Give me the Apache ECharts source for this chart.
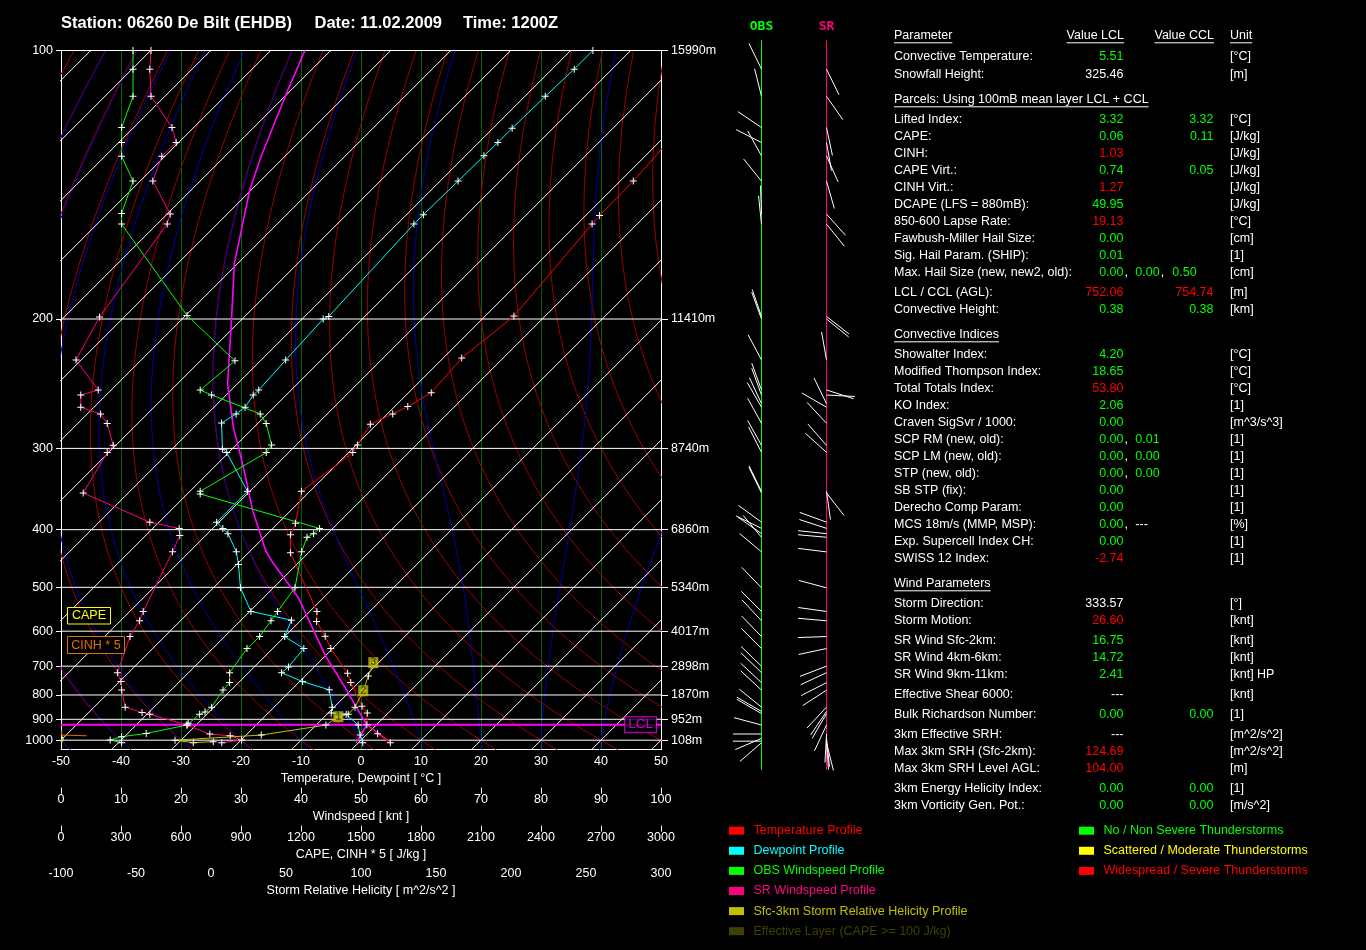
<!DOCTYPE html>
<html><head><meta charset="utf-8">
<script src="https://cdn.jsdelivr.net/npm/echarts@6/dist/echarts.min.js"></script>
<style>html,body{margin:0;padding:0;background:#000;}#c{width:1366px;height:950px;}</style>
</head><body><div id="c"></div>
<script>
// ================= DATA =================
const PRESSURE_LEVELS = [100, 200, 300, 400, 500, 600, 700, 800, 900, 1000];
const HEIGHT_LABELS = ['15990m', '11410m', '8740m', '6860m', '5340m', '4017m', '2898m', '1870m', '952m', '108m'];

const TEMP_P = [1012.7, 967.8, 924.8, 872.4, 844.1, 754.9, 722.9, 647.1, 613.2, 575.5, 552.0, 436.5, 407.6, 390.4, 348.0, 304.3, 296.6, 276.9, 267.7, 261.5, 250.2, 224.7, 198.3, 153.5, 150.0, 137.2, 125.0];
const TEMP_T = [5.3, 1.7, -1.6, -3.5, -5.5, -11.3, -13.4, -20.3, -23.3, -27.2, -28.8, -43.0, -46.0, -47.1, -51.4, -49.3, -49.8, -51.1, -49.1, -47.8, -46.2, -46.9, -45.2, -47.5, -47.7, -47.8, -48.5];

const DEW_P = [1012.7, 974.1, 926.2, 877.8, 872.4, 848.1, 780.7, 751.4, 720.9, 702.3, 647.1, 614.0, 572.4, 552.0, 500.8, 456.8, 434.7, 406.0, 398.3, 389.0, 348.0, 304.3, 300.8, 275.8, 267.7, 262.1, 252.0, 248.1, 226.1, 200.0, 198.5, 153.5, 149.7, 137.2, 128.7, 124.5, 120.2, 111.3, 104.4, 100.0];
const DEW_T = [0.7, -1.0, -3.0, -6.8, -9.5, -10.3, -13.7, -19.5, -24.5, -24.3, -24.8, -30.0, -31.6, -39.8, -45.5, -49.7, -52.2, -56.6, -58.3, -60.4, -60.4, -70.3, -71.6, -76.1, -75.2, -74.8, -75.5, -75.4, -75.9, -76.5, -76.0, -77.2, -77.2, -77.0, -76.9, -76.8, -76.8, -76.6, -76.3, -76.3];

const PARCEL_P = [924.8, 848.1, 778.2, 669.2, 522.2, 450.9, 433.5, 373.0, 319.3, 279.3, 243.4, 197.7, 171.0, 140.5, 129.0, 110.6, 100];
const PARCEL_T = [-1.6, -6.3, -11.0, -19.9, -34.1, -44.7, -47.4, -56.3, -65.2, -73.5, -81.6, -92.4, -100.5, -110.2, -113.9, -120.2, -124.3];
const PARCEL_DRY_P = [1012.7, 924.8];
const PARCEL_DRY_T = [5.3, -1.6];
const PARCEL_MIX_P = [1012.7, 924.8];
const PARCEL_MIX_T = [-0.4, -1.6];
const LCL_P = 924.8;

const OBS_P = [1012.7, 999, 982.5, 965.8, 926.2, 918.3, 877.8, 868.3, 848.1, 781.8, 754.9, 720.9, 647.1, 614.0, 573.8, 552.0, 500.8, 434.7, 411.5, 406.0, 398.3, 351.3, 348.0, 304.3, 296.6, 276.3, 267.7, 252.0, 248.1, 226.6, 197.9, 153.5, 149.2, 137.2, 128.8, 124.5, 120.0, 111.3, 104.4, 100];
const OBS_SPEED = [10.1, 8.2, 10.1, 14.2, 21.0, 21.2, 23.1, 24.0, 25.1, 27.0, 28.1, 28.1, 31.0, 33.1, 35.0, 36.1, 39.0, 40.1, 41.0, 42.1, 43.1, 23.2, 23.2, 34.2, 35.1, 34.2, 33.2, 25.1, 23.2, 29.0, 21.0, 10.1, 10.1, 12.0, 10.1, 10.1, 10.1, 12.0, 12.0, 12.0];

const SR_P = [1012.7, 999, 977.6, 969.2, 926.2, 877.8, 870.8, 848.1, 781.8, 751.4, 720.9, 614.0, 573.8, 552.0, 434.7, 408.7, 398.3, 389.0, 350.0, 304.3, 296.9, 276.3, 267.7, 262.1, 252.0, 248.1, 226.1, 198.9, 153.5, 149.4, 137.2, 128.8, 124.5, 120.0, 111.3, 104.4, 100];
const SR_SPEED = [26.8, 30.1, 28.2, 24.8, 21.0, 14.8, 13.5, 10.7, 10.1, 10.0, 9.4, 11.5, 13.1, 13.7, 18.6, 19.8, 19.7, 14.8, 3.7, 7.7, 8.7, 7.7, 6.6, 3.3, 3.3, 6.2, 2.5, 6.4, 17.7, 18.2, 15.3, 16.8, 19.2, 18.5, 15.0, 14.8, 15.0];

const SRH_P = [1007.6, 1012.7, 1000, 974.1, 926.2, 889.0, 877.8, 848.1, 784.3, 732.0, 689.1];
const SRH_VAL = [1.5, -11.8, -24.0, 33.5, 76.6, 84.9, 91.5, 96.0, 101.5, 104.9, 108.2];
const SRH_KM_P = [889.0, 784.3, 689.1];
const SRH_KM_VAL = [84.9, 101.5, 108.2];
const SRH_KM_LABEL = ['1', '2', '3'];

const CINH_P = [949.9, 974.1, 977.6];
const CINH_VAL = [3.5, 3.5, 128.5];
const CAPE_P = [977.6, 995, 1012.7];
const CAPE_VAL = [3, 12, 3];

const WIND_P = [1013, 1005, 991, 969, 926, 875, 866, 848, 782, 755, 721, 700, 647, 614, 574, 552, 501, 435, 411.5, 406, 398, 389, 350, 348, 304, 297, 276, 262, 259, 252, 248, 226, 200, 198.5, 153.5, 149.5, 137.2, 128.7, 124.5, 120, 111.3, 104.4];
const OBS_DIR = [229, 270, 247, 270, 285, 300, 300, 309, 313, 313, 314, 314, 315, 316, 317, 315, 316, 310, 320, 305, 296, 306, 334, 334, 333, 331, 331, 330, 335, 340, 340, 332, 340, 341, 354, 358, 321, 331, 297, 304, 346, 334];
const SR_DIR = [166, 176, 174, 183, 205, 210, 214, 223, 237, 243, 245, 249, 258, 268, 275, 278, 285, 277, 275, 276, 288, 290, 142, 172, 312, 319, 317, 300, 334, 93, 108, 350, 129, 128, 141, 138, 164, 156, 170, 168, 145, 154];

const TITLE_PARTS = ['Station: 06260 De Bilt (EHDB)', 'Date: 11.02.2009', 'Time: 1200Z'];

// table rows: [label, LCL value(s), code(s), CCL value, code, unit]; '#' = heading
const TABLE_ROWS = [
  ['Convective Temperature:', '5.51', 'g', '', '', '[°C]'],
  ['Snowfall Height:', '325.46', 'w', '', '', '[m]'],
  ['#Parcels: Using 100mB mean layer LCL + CCL'],
  ['Lifted Index:', '3.32', 'g', '3.32', 'g', '[°C]'],
  ['CAPE:', '0.06', 'g', '0.11', 'g', '[J/kg]'],
  ['CINH:', '1.03', 'r', '', '', '[J/kg]'],
  ['CAPE Virt.:', '0.74', 'g', '0.05', 'g', '[J/kg]'],
  ['CINH Virt.:', '1.27', 'r', '', '', '[J/kg]'],
  ['DCAPE (LFS = 880mB):', '49.95', 'g', '', '', '[J/kg]'],
  ['850-600 Lapse Rate:', '19.13', 'r', '', '', '[°C]'],
  ['Fawbush-Miller Hail Size:', '0.00', 'g', '', '', '[cm]'],
  ['Sig. Hail Param. (SHIP):', '0.01', 'g', '', '', '[1]'],
  ['Max. Hail Size (new, new2, old):', ['0.00', '0.00', '0.50'], ['g', 'g', 'g'], '', '', '[cm]'],
  ['LCL / CCL (AGL):', '752.06', 'r', '754.74', 'r', '[m]'],
  ['Convective Height:', '0.38', 'g', '0.38', 'g', '[km]'],
  ['#Convective Indices'],
  ['Showalter Index:', '4.20', 'g', '', '', '[°C]'],
  ['Modified Thompson Index:', '18.65', 'g', '', '', '[°C]'],
  ['Total Totals Index:', '53.80', 'r', '', '', '[°C]'],
  ['KO Index:', '2.06', 'g', '', '', '[1]'],
  ['Craven SigSvr / 1000:', '0.00', 'g', '', '', '[m^3/s^3]'],
  ['SCP RM (new, old):', ['0.00', '0.01'], ['g', 'g'], '', '', '[1]'],
  ['SCP LM (new, old):', ['0.00', '0.00'], ['g', 'g'], '', '', '[1]'],
  ['STP (new, old):', ['0.00', '0.00'], ['g', 'g'], '', '', '[1]'],
  ['SB STP (fix):', '0.00', 'g', '', '', '[1]'],
  ['Derecho Comp Param:', '0.00', 'g', '', '', '[1]'],
  ['MCS 18m/s (MMP, MSP):', ['0.00', '---'], ['g', 'w'], '', '', '[%]'],
  ['Exp. Supercell Index CH:', '0.00', 'g', '', '', '[1]'],
  ['SWISS 12 Index:', '-2.74', 'r', '', '', '[1]'],
  ['#Wind Parameters'],
  ['Storm Direction:', '333.57', 'w', '', '', '[°]'],
  ['Storm Motion:', '26.60', 'r', '', '', '[knt]'],
  ['SR Wind Sfc-2km:', '16.75', 'g', '', '', '[knt]'],
  ['SR Wind 4km-6km:', '14.72', 'g', '', '', '[knt]'],
  ['SR Wind 9km-11km:', '2.41', 'g', '', '', '[knt] HP'],
  ['Effective Shear 6000:', '---', 'w', '', '', '[knt]'],
  ['Bulk Richardson Number:', '0.00', 'g', '0.00', 'g', '[1]'],
  ['3km Effective SRH:', '---', 'w', '', '', '[m^2/s^2]'],
  ['Max 3km SRH (Sfc-2km):', '124.69', 'r', '', '', '[m^2/s^2]'],
  ['Max 3km SRH Level AGL:', '104.00', 'r', '', '', '[m]'],
  ['3km Energy Helicity Index:', '0.00', 'g', '0.00', 'g', '[1]'],
  ['3km Vorticity Gen. Pot.:', '0.00', 'g', '0.00', 'g', '[m/s^2]']
];

const LEGEND_LEFT = [['Temperature Profile', '#ff0000'], ['Dewpoint Profile', '#00ffff'], ['OBS Windspeed Profile', '#00ff00'], ['SR Windspeed Profile', '#ff0080'], ['Sfc-3km Storm Relative Helicity Profile', '#c0c000'], ['Effective Layer (CAPE >= 100 J/kg)', '#404000']];
const LEGEND_RIGHT = [['No / Non Severe Thunderstorms', '#00ff00'], ['Scattered / Moderate Thunderstorms', '#ffff00'], ['Widespread / Severe Thunderstorms', '#ff0000']];

// ================= LAYOUT / TRANSFORMS =================
const ctx = document.createElement('canvas').getContext('2d');
function hasFont(name) {
  const s = 'mmmmwwwwiiiilll0123456789';
  ctx.font = '20px monospace'; const a = ctx.measureText(s).width;
  ctx.font = '20px "' + name + '", monospace'; const b = ctx.measureText(s).width;
  return Math.abs(a - b) > 0.5;
}
const NARROW = hasFont('Liberation Sans Narrow');
const FONT = NARROW ? '"Liberation Sans Narrow", "Liberation Sans", sans-serif' : '"Liberation Sans", Arial, sans-serif';
const FS = NARROW ? 15 : 12.5;

const K = 0.35;
const vp = p => Math.pow(p, -K);
const V100 = vp(100), V1000 = vp(1000), VBOT = vp(1050);
const GRID_L = 61, GRID_W = 600, GRID_TOP = 50.5, PX_100_1000 = 689.7;
const GRID_H = PX_100_1000 * (V100 - VBOT) / (V100 - V1000);
const SKEW = PX_100_1000 / (GRID_W / 100); // 45 degree isotherms
const skewX = (T, p) => T + SKEW * (vp(p) - V1000) / (V100 - V1000);
const LEVEL_V = PRESSURE_LEVELS.map(vp);
const lvlIndex = val => LEVEL_V.findIndex(x => Math.abs(x - val) < 1e-9);

const PLUS = 'path://M0,3H7V4H0Z M3,0H4V7H3Z';
const COL = { g: '#00ff00', r: '#ff0000', w: '#ffffff' };

// ================= SERIES =================
const series = [];
function bgLine(pts, color, z) {
  series.push({ type: 'line', xAxisIndex: 0, yAxisIndex: 0, data: pts, showSymbol: false, silent: true,
    lineStyle: { color, width: 1 }, z, clip: true, animation: false });
}
// dry adiabats
for (let t = -70; t <= 130; t += 10) {
  const th = t + 273.15, pts = [];
  for (let p = 1050; p >= 100; p -= 10) pts.push([skewX(th * Math.pow(p / 1000, 0.2857) - 273.15, p), vp(p)]);
  bgLine(pts, '#9a0000', 1);
}
// moist adiabats
function dTdp(T, p) {
  const Rd = 287.04, cp = 1005.7, L = 2.501e6, eps = 0.622;
  const Tc = T - 273.15, es = 6.112 * Math.exp(17.67 * Tc / (Tc + 243.5)), rs = eps * es / (p - es);
  return (Rd * T + L * rs) / (p * (cp + L * L * rs * eps / (Rd * T * T)));
}
for (let t = -50; t <= 40; t += 10) {
  const st = 2; let T = t + 273.15; const up = [[1000, T]];
  for (let p = 1000; p > 100; p -= st) { const k1 = dTdp(T, p); const k2 = dTdp(T - k1 * st / 2, p - st / 2); T -= k2 * st; up.push([p - st, T]); }
  T = t + 273.15; const dn = [];
  for (let p = 1000; p < 1050; p += st) { const k1 = dTdp(T, p); const k2 = dTdp(T + k1 * st / 2, p + st / 2); T += k2 * st; dn.push([p + st, T]); }
  const all = dn.reverse().concat(up);
  bgLine(all.map(([p, TK]) => [skewX(TK - 273.15, p), vp(p)]), '#0000a8', 1);
}
// isotherms
for (let t = -170; t <= 50; t += 10) bgLine([[skewX(t, 1050), VBOT], [skewX(t, 100), V100]], '#ffffff', 2);
// isobars
series.push({ type: 'custom', xAxisIndex: 0, yAxisIndex: 0, silent: true, z: 3, animation: false,
  data: LEVEL_V.map(v => [0, v]),
  renderItem: (params, api) => {
    const y = api.coord([0, api.value(1)])[1];
    const a = api.coord([-50, api.value(1)])[0], b = api.coord([50, api.value(1)])[0];
    return { type: 'line', shape: { x1: a, y1: y, x2: b, y2: y }, style: { stroke: '#ffffff', lineWidth: 1 } };
  } });

function profile(name, xIdx, pts, color, width, markers, z) {
  series.push({ name, type: 'line', xAxisIndex: xIdx, yAxisIndex: 0, data: pts, silent: true, animation: false,
    showSymbol: markers, showAllSymbol: true, symbol: PLUS, symbolSize: 7, itemStyle: { color: '#ffffff' },
    lineStyle: { color, width }, z, clip: true });
}
profile('parcelDry', 0, PARCEL_DRY_P.map((p, i) => [skewX(PARCEL_DRY_T[i], p), vp(p)]), '#ff00ff', 1.5, false, 6);
profile('parcelMix', 0, PARCEL_MIX_P.map((p, i) => [skewX(PARCEL_MIX_T[i], p), vp(p)]), '#ff00ff', 1.5, false, 6);
profile('parcel', 0, PARCEL_P.map((p, i) => [skewX(PARCEL_T[i], p), vp(p)]), '#ff00ff', 1.6, false, 6);
profile('Temperature', 0, TEMP_P.map((p, i) => [skewX(TEMP_T[i], p), vp(p)]), '#ff0000', 1, true, 8);
profile('Dewpoint', 0, DEW_P.map((p, i) => [skewX(DEW_T[i], p), vp(p)]), '#00ffff', 1, true, 8);
profile('OBS', 1, OBS_P.map((p, i) => [OBS_SPEED[i], vp(p)]), '#00ff00', 1, true, 8);
profile('SR', 1, SR_P.map((p, i) => [SR_SPEED[i], vp(p)]), '#ff0080', 1, true, 8);
profile('SRH', 3, SRH_P.map((p, i) => [SRH_VAL[i], vp(p)]), '#c0c000', 1, true, 8);
profile('CINH', 2, CINH_P.map((p, i) => [CINH_VAL[i], vp(p)]), '#e07000', 1, false, 8);
profile('CAPE', 2, CAPE_P.map((p, i) => [CAPE_VAL[i], vp(p)]), '#ffff00', 1, false, 8);
// LCL line
profile('LCL', 0, [[-50, vp(LCL_P)], [50, vp(LCL_P)]], '#ff00ff', 2, false, 7);
series.push({ type: 'scatter', xAxisIndex: 0, yAxisIndex: 0, silent: true, animation: false, z: 9, symbolSize: 0,
  data: [[46.6, vp(LCL_P)]],
  label: { show: true, position: 'inside', formatter: 'LCL', color: '#ff00ff', fontSize: FS + 1, fontFamily: FONT,
    borderColor: '#ff00ff', borderWidth: 1, backgroundColor: '#000', padding: [1, 3, 0, 3] } });
// SRH km markers
series.push({ type: 'scatter', xAxisIndex: 3, yAxisIndex: 0, silent: true, animation: false, z: 9,
  symbol: 'rect', symbolSize: [10, 11], itemStyle: { color: '#c0c000' },
  data: SRH_KM_P.map((p, i) => [SRH_KM_VAL[i], vp(p)]),
  label: { show: true, position: 'inside', formatter: pr => SRH_KM_LABEL[pr.dataIndex], color: '#404000', fontSize: 10, fontWeight: 'bold' } });

// wind direction sticks
const OBS_X = 61.5, SR_X = 126.5, STICK = 28.5;
function sticks(xBase, dirs) {
  series.push({ type: 'custom', xAxisIndex: 4, yAxisIndex: 2, silent: true, animation: false, z: 10,
    data: WIND_P.map((p, i) => [xBase, vp(p), dirs[i]]),
    renderItem: (params, api) => {
      const pt = api.coord([api.value(0), api.value(1)]);
      const r = api.value(2) * Math.PI / 180;
      return { type: 'line', shape: { x1: pt[0], y1: pt[1], x2: pt[0] + STICK * Math.sin(r), y2: pt[1] - STICK * Math.cos(r) },
        style: { stroke: '#ffffff', lineWidth: 1 } };
    } });
}
sticks(OBS_X, OBS_DIR);
sticks(SR_X, SR_DIR);

// ================= GRAPHICS (text) =================
const G = [];
function measure(text, size, weight) { ctx.font = (weight || 'normal') + ' ' + size + 'px ' + FONT; return ctx.measureText(text).width; }
function addText(x, y, text, color, o) {
  o = o || {};
  G.push({ type: 'text', x, y, silent: true, z: 50,
    style: { text, fill: color, fontSize: o.size || FS, fontFamily: o.family || FONT, fontWeight: o.weight || 'normal',
      align: o.align || 'left', textAlign: o.align || 'left', verticalAlign: 'middle', textVerticalAlign: 'middle' } });
}
function addLine(x1, y1, x2, y2, color, w, z) {
  G.push({ type: 'line', silent: true, z: z || 50, shape: { x1, y1, x2, y2 }, style: { stroke: color, lineWidth: w || 1 } });
}
function underlined(x, y, text, color, align) {
  addText(x, y, text, color, { align });
  const w = measure(text, FS);
  const x0 = align === 'right' ? x - w : x;
  addLine(x0, y + 7.5, x0 + w, y + 7.5, color, 1);
}
// title
const TITLE_X = [61, 314.5, 463];
TITLE_PARTS.forEach((t, i) => addText(TITLE_X[i], 23, t, '#ffffff', { size: 16.5, weight: 'bold', family: '"Liberation Sans", Arial, sans-serif' }));

// table
const LABEL_X = 894, LCL_X = 1123.5, CCL_X = 1213.5, UNIT_X = 1230, MULTI_X = [null, 1135.3, 1172.3];
const ROW_Y = [57, 74.3, 99.3, 119.3, 136.3, 153.3, 170.3, 187.3, 204.3, 221.3, 238.3, 255.3, 272.3, 292.3, 309.3, 334.3, 354.3, 371.3, 388.3, 405.3, 422.5, 439.3, 456.3, 473.3, 490.3, 507.3, 524.3, 541.3, 558.3, 583.3, 603.3, 620.3, 640.3, 657.3, 674.3, 694.3, 714.3, 734.3, 751.3, 768.3, 788.3, 805.3];
underlined(LABEL_X, 35.3, 'Parameter', '#fff', 'left');
underlined(1124, 35.3, 'Value LCL', '#fff', 'right');
underlined(1214, 35.3, 'Value CCL', '#fff', 'right');
underlined(UNIT_X, 35.3, 'Unit', '#fff', 'left');
TABLE_ROWS.forEach((r, i) => {
  const y = ROW_Y[i];
  if (r[0].charAt(0) === '#') { underlined(LABEL_X, y, r[0].slice(1), '#fff', 'left'); return; }
  addText(LABEL_X, y, r[0], '#fff');
  if (Array.isArray(r[1])) {
    r[1].forEach((val, k) => {
      const c = COL[r[2][k]];
      if (k === 0) { addText(LCL_X, y, val, c, { align: 'right' }); }
      else { addText(MULTI_X[k], y, val, c); }
      if (k < r[1].length - 1) {
        const cx = k === 0 ? LCL_X + 1 : MULTI_X[k] + measure(val, FS) + 1;
        addText(cx, y, ',', '#fff');
      }
    });
  } else if (r[1]) addText(LCL_X, y, r[1], COL[r[2]], { align: 'right' });
  if (r[3]) addText(CCL_X, y, r[3], COL[r[4]], { align: 'right' });
  addText(UNIT_X, y, r[5], '#fff');
});

// legend
LEGEND_LEFT.forEach((l, i) => {
  const y = 830.7 + i * 20.1;
  G.push({ type: 'rect', silent: true, z: 50, shape: { x: 729, y: y - 4, width: 15, height: 8 }, style: { fill: l[1] } });
  addText(753.5, y, l[0], l[1]);
});
LEGEND_RIGHT.forEach((l, i) => {
  const y = 830.7 + i * 20.1;
  G.push({ type: 'rect', silent: true, z: 50, shape: { x: 1079, y: y - 4, width: 15, height: 8 }, style: { fill: l[1] } });
  addText(1103.5, y, l[0], l[1]);
});

// CAPE / CINH boxes
G.push({ type: 'rect', silent: true, z: 50, shape: { x: 67.5, y: 607.5, width: 43, height: 16.5 }, style: { fill: '#000', stroke: '#ffff00', lineWidth: 1 } });
addText(89, 616, 'CAPE', '#ffff00', { align: 'center' });
G.push({ type: 'rect', silent: true, z: 50, shape: { x: 67.5, y: 636.5, width: 57, height: 17 }, style: { fill: '#000', stroke: '#e07000', lineWidth: 1 } });
addText(96, 645.2, 'CINH * 5', '#e07000', { align: 'center' });

// wind panel axes & headers
const PANEL_L = 700;
addLine(PANEL_L + OBS_X, 40, PANEL_L + OBS_X, 770, '#00ff00', 1, 5);
addLine(PANEL_L + SR_X, 40, PANEL_L + SR_X, 770, '#ff0080', 1, 5);
addText(PANEL_L + OBS_X, 27, 'OBS', '#00ff00', { align: 'center', size: 13, weight: 'bold', family: '"DejaVu Sans Mono", monospace' });
addText(PANEL_L + SR_X, 27, 'SR', '#ff0080', { align: 'center', size: 13, weight: 'bold', family: '"DejaVu Sans Mono", monospace' });

// ================= AXES =================
const lab = { color: '#ffffff', fontSize: FS, fontFamily: FONT };
const plain = v => String(v);
function bottomAxis(min, max, interval, offset, name, ticks) {
  return { gridIndex: 0, type: 'value', min, max, interval, position: 'bottom', offset,
    axisLine: { show: false }, axisTick: { show: ticks, length: 6, lineStyle: { color: '#ffffff' } },
    axisLabel: Object.assign({ margin: 5, showMinLabel: true, showMaxLabel: true, formatter: plain }, lab),
    splitLine: { show: false }, name, nameLocation: 'middle', nameGap: 19, nameTextStyle: lab };
}
const xAxis = [
  { gridIndex: 0, type: 'value', min: -50, max: 50, interval: 10, position: 'bottom',
    axisLine: { show: true, onZero: false, lineStyle: { color: '#ffffff', width: 1 } }, axisTick: { show: false },
    axisLabel: Object.assign({ margin: 5, showMinLabel: true, showMaxLabel: true, formatter: plain }, lab),
    splitLine: { show: true, lineStyle: { color: '#006400', width: 1 } },
    name: 'Temperature, Dewpoint [ °C ]', nameLocation: 'middle', nameGap: 19, nameTextStyle: lab },
  bottomAxis(0, 100, 10, 38, 'Windspeed [ knt ]', true),
  bottomAxis(0, 3000, 300, 76, 'CAPE, CINH * 5 [ J/kg ]', true),
  bottomAxis(-100, 300, 50, 112, 'Storm Relative Helicity [ m^2/s^2 ]', false),
  { gridIndex: 1, type: 'value', min: 0, max: 200, show: false }
];
const yAxis = [
  { gridIndex: 0, type: 'value', min: VBOT, max: V100, position: 'left',
    axisLine: { show: true, onZero: false, lineStyle: { color: '#ffffff' } },
    axisTick: { show: true, length: 5, customValues: LEVEL_V, lineStyle: { color: '#ffffff' } },
    axisLabel: Object.assign({ customValues: LEVEL_V, margin: 8, formatter: v => String(PRESSURE_LEVELS[lvlIndex(v)] ?? '') }, lab),
    splitLine: { show: false } },
  { gridIndex: 0, type: 'value', min: VBOT, max: V100, position: 'right',
    axisLine: { show: true, onZero: false, lineStyle: { color: '#ffffff' } },
    axisTick: { show: true, length: 7, customValues: LEVEL_V, lineStyle: { color: '#ffffff' } },
    axisLabel: Object.assign({ customValues: LEVEL_V, margin: 10, formatter: v => HEIGHT_LABELS[lvlIndex(v)] ?? '' }, lab),
    splitLine: { show: false } },
  { gridIndex: 1, type: 'value', min: VBOT, max: V100, show: false }
];

const chart = echarts.init(document.getElementById('c'), null, { renderer: 'canvas' });
chart.setOption({
  backgroundColor: '#000000',
  animation: false,
  grid: [
    { left: GRID_L, top: GRID_TOP, width: GRID_W, height: GRID_H, containLabel: false },
    { left: PANEL_L, top: GRID_TOP, width: 200, height: GRID_H, containLabel: false }
  ],
  xAxis, yAxis, series,
  graphic: { elements: G }
});
</script></body></html>
